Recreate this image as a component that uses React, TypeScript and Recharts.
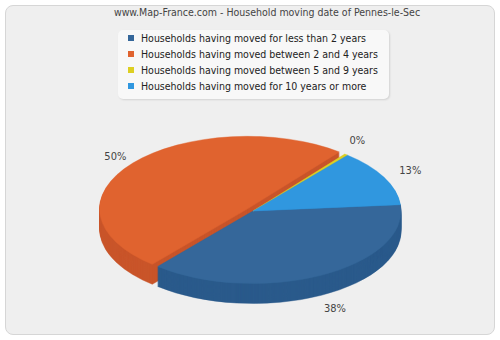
import { Cell, Legend, Pie, PieChart } from "recharts";

const categories = [
  "Households having moved for less than 2 years",
  "Households having moved between 2 and 4 years",
  "Households having moved between 5 and 9 years",
  "Households having moved for 10 years or more",
];
const shares = [37.6, 49.6, 0.4, 12.6];
const pulledOut = [false, true, false, false];

const topColors = ["#35679A", "#E0632F", "#DDCF22", "#3097DF"];
const sideColors = ["#2A5A8B", "#C9552A", "#B9AD1A", "#2A86C9"];
// small angle nudges (degrees) so the labels sit where the original puts them
const labelTurn = [0, 0, 3, 0];

const data = categories.map((name, i) => ({ name, value: shares[i] }));
const total = shares.reduce((a, b) => a + b, 0);

const WIDTH = 500;
const HEIGHT = 340;
const CX = 253;
const CY = 211;
const RADIUS = 148;
const TILT = 0.49;
const DEPTH = 20;
const START = 5;
const PULL = 7;
const noMargin = { top: 0, right: 0, bottom: 0, left: 0 };

const font = "'DejaVu Sans Condensed', 'DejaVu Sans', Verdana, sans-serif";

// where the pulled slice sits
const pulledIndex = pulledOut.indexOf(true);
const before = shares.slice(0, pulledIndex).reduce((a, b) => a + b, 0);
const pulledMid =
  ((START - ((before + shares[pulledIndex] / 2) / total) * 360) * Math.PI) / 180;
const pullX = PULL * Math.cos(pulledMid);
const pullY = -PULL * Math.sin(pulledMid);

function pieLayer(key: string, cy: number, colors: string[], pulled: boolean) {
  return (
    <Pie
      key={key}
      data={data}
      dataKey="value"
      nameKey="name"
      cx={CX + (pulled ? pullX : 0)}
      cy={cy + (pulled ? pullY : 0)}
      outerRadius={RADIUS}
      startAngle={START}
      endAngle={START - 360}
      isAnimationActive={false}
      labelLine={false}
      stroke="none"
    >
      {data.map((d, i) => {
        const show = pulledOut[i] === pulled;
        return (
          <Cell
            key={d.name}
            fill={show ? colors[i] : "transparent"}
            stroke={show ? colors[i] : "none"}
            strokeWidth={0.6}
          />
        );
      })}
    </Pie>
  );
}

function renderLabel(props: any) {
  const { cx, cy, midAngle, percent, index } = props;
  const a = ((midAngle + labelTurn[index]) * Math.PI) / 180;
  const x = cx + Math.cos(a) * RADIUS * 1.2;
  let y = cy - Math.sin(a) * RADIUS * TILT * 1.2;
  if (Math.sin(a) < 0) y += DEPTH;
  return (
    <text
      x={x}
      y={y}
      textAnchor="middle"
      dominantBaseline="central"
      fill="#444"
      fontSize={11}
      fontFamily={font}
    >
      {`${Math.round(percent * 100)}%`}
    </text>
  );
}

function LegendBox() {
  return (
    <div
      style={{
        background: "#F8F8F8",
        borderRadius: 5,
        boxShadow: "1px 1px 2px rgba(0,0,0,0.12)",
        padding: "0 0 5px 10px",
        width: 261,
        fontFamily: font,
        fontSize: 10.5,
        color: "#222",
      }}
    >
      {data.map((d, i) => (
        <div key={d.name} style={{ display: "flex", alignItems: "center", height: 16 }}>
          <span
            style={{ width: 6, height: 6, background: topColors[i], marginRight: 7, flex: "none" }}
          />
          <span style={{ whiteSpace: "nowrap" }}>{d.name}</span>
        </div>
      ))}
    </div>
  );
}

export default function App() {
  const sides = [];
  for (let k = DEPTH; k >= 1; k--) {
    const cy = (CY + k) / TILT;
    sides.push(pieLayer(`s${k}`, cy, sideColors, false));
    sides.push(pieLayer(`sp${k}`, cy, sideColors, true));
  }

  return (
    <div style={{ position: "absolute", left: 0, top: 0, width: WIDTH, height: HEIGHT, background: "#fff" }}>
      <style>{`body{margin:0}`}</style>
      <div
        style={{
          position: "absolute",
          left: 5,
          top: 5,
          width: 488,
          height: 328,
          background: "#EFEFEF",
          border: "1px solid #D6D6D6",
          borderRadius: 8,
        }}
      />
      <div
        style={{
          position: "absolute",
          left: 0,
          top: 0,
          width: WIDTH,
          height: HEIGHT / TILT,
          transform: `scaleY(${TILT})`,
          transformOrigin: "0 0",
        }}
      >
        <PieChart width={WIDTH} height={Math.ceil(HEIGHT / TILT)} margin={noMargin}>
          {sides}
          {pieLayer("top", CY / TILT, topColors, false)}
          {pieLayer("topPulled", CY / TILT, topColors, true)}
        </PieChart>
      </div>
      <div style={{ position: "absolute", left: 0, top: 0 }}>
        <PieChart width={WIDTH} height={HEIGHT} margin={noMargin}>
          <Pie
            data={data}
            dataKey="value"
            nameKey="name"
            cx={CX}
            cy={CY}
            outerRadius={RADIUS}
            startAngle={START}
            endAngle={START - 360}
            isAnimationActive={false}
            fill="transparent"
            stroke="none"
            label={renderLabel}
            labelLine={false}
          />
          <Legend
            content={<LegendBox />}
            wrapperStyle={{ position: "absolute", left: 118, top: 30, width: 271 }}
          />
        </PieChart>
      </div>
      <div
        style={{
          position: "absolute",
          left: 0,
          top: 6,
          width: 534,
          textAlign: "center",
          fontFamily: font,
          fontSize: 10.5,
          color: "#444",
          whiteSpace: "nowrap",
        }}
      >
        www.Map-France.com - Household moving date of Pennes-le-Sec
      </div>
    </div>
  );
}
